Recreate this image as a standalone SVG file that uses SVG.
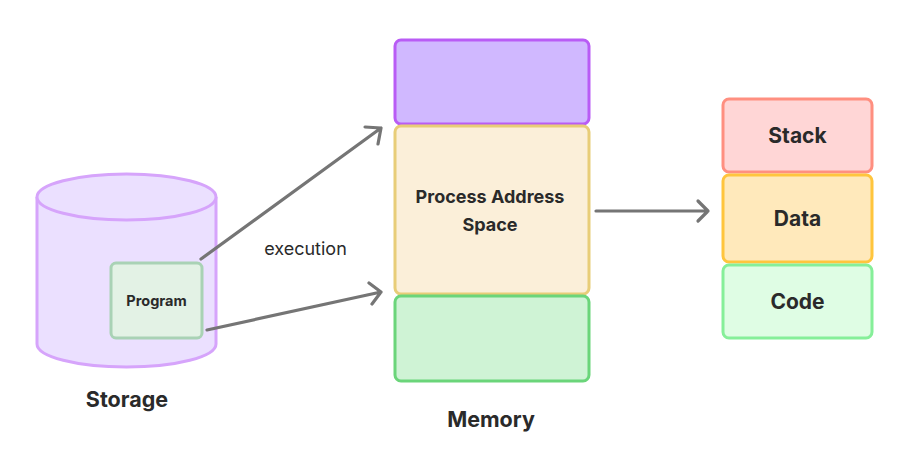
<svg xmlns="http://www.w3.org/2000/svg" width="911" height="471" viewBox="0 0 911 471">
<style>
text{font-family:Inter,"Liberation Sans",sans-serif;fill:#2a2a2a;text-anchor:middle}
.b{font-weight:700}
.c{fill:none;stroke:#757575;stroke-width:3.2;stroke-linecap:round;stroke-linejoin:round}
</style>
<rect width="911" height="471" fill="#fff"/>
<g id="storage">
<path d="M37 197 V344 A89.5 23 0 0 0 216 344 V197" fill="#ebe0ff" stroke="#d6a4fb" stroke-width="3"/>
<ellipse cx="126.5" cy="197" rx="89.5" ry="23" fill="#ebe0ff" stroke="#d6a4fb" stroke-width="3"/>
<text x="127" y="407" class="b" font-size="21.5">Storage</text>
</g>
<g id="program">
<rect x="111" y="263" width="91" height="75" rx="5" fill="#e3f2e5" stroke="#a9d2b5" stroke-width="3"/>
<text x="156.5" y="306" class="b" font-size="14.5">Program</text>
</g>
<g id="memory-top">
<rect x="395" y="40" width="194" height="84" rx="6" fill="#d0b8ff" stroke="#b95cf5" stroke-width="3"/>
</g>
<g id="memory-pas">
<rect x="395" y="126" width="194" height="168" rx="6" fill="#fbefd9" stroke="#e8cd78" stroke-width="3"/>
<text x="490" y="203" class="b" font-size="18">Process Address</text>
<text x="490" y="231" class="b" font-size="18">Space</text>
</g>
<g id="memory-bottom">
<rect x="395" y="296" width="194" height="85" rx="6" fill="#cff3d5" stroke="#6bd57a" stroke-width="3"/>
</g>
<text x="491" y="427" class="b" font-size="21.5">Memory</text>
<g id="stack">
<rect x="723" y="99" width="149" height="73" rx="6" fill="#ffd6d6" stroke="#ff8f80" stroke-width="3"/>
<text x="797.5" y="143" class="b" font-size="21">Stack</text>
</g>
<g id="data">
<rect x="723" y="175" width="149" height="87" rx="6" fill="#ffe9bb" stroke="#ffc53d" stroke-width="3"/>
<text x="797.5" y="226" class="b" font-size="21">Data</text>
</g>
<g id="code">
<rect x="723" y="265" width="149" height="73" rx="6" fill="#dffde4" stroke="#86ef99" stroke-width="3"/>
<text x="797.5" y="309" class="b" font-size="21">Code</text>
</g>
<g id="connectors">
<path class="c" d="M201 259 L381 128 M365 127 L381 128 L378 144"/>
<path class="c" d="M207 330 L381 292 M369 283 L381 292 L372 304"/>
<path class="c" d="M596 211 L708 211 M698 201 L708 211 L698 221"/>
<text x="305.5" y="255" font-size="18">execution</text>
</g>
</svg>
